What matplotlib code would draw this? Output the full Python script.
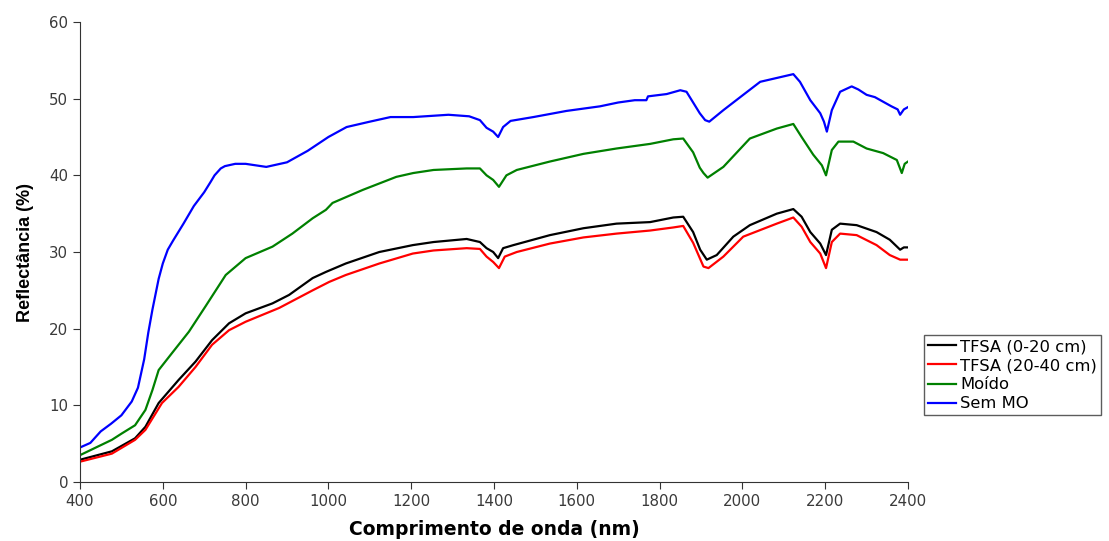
import matplotlib.pyplot as plt

plt.rcParams['font.family'] = ['DejaVu Sans']

# Espectros de reflectância (nm, %)
wl_tfsa_0_20 = [400, 477, 533, 558, 590, 638, 679, 719, 760, 800, 865, 905, 962, 994, 1042,
                1123, 1204, 1254, 1334, 1366, 1382, 1398, 1410, 1422, 1447, 1535, 1616, 1696,
                1777, 1833, 1857, 1881, 1898, 1914, 1938, 1978, 2018, 2083, 2123, 2143, 2164,
                2188, 2202, 2216, 2236, 2276, 2324, 2356, 2381, 2390, 2400]
tfsa_0_20 = [2.9, 4.0, 5.7, 7.2, 10.3, 13.3, 15.7, 18.5, 20.7, 22.0, 23.3, 24.4, 26.6, 27.4, 28.5,
             30.0, 30.9, 31.3, 31.7, 31.3, 30.5, 30.0, 29.2, 30.5, 30.9, 32.2, 33.1, 33.7,
             33.9, 34.5, 34.6, 32.6, 30.3, 29.0, 29.6, 32.0, 33.5, 35.0, 35.6, 34.6, 32.6,
             31.1, 29.6, 32.9, 33.7, 33.5, 32.6, 31.6, 30.3, 30.6, 30.6]

wl_tfsa_20_40 = [400, 477, 533, 558, 598, 638, 679, 719, 760, 800, 881, 962, 1002, 1042, 1123,
                 1204, 1254, 1334, 1366, 1382, 1398, 1412, 1426, 1455, 1535, 1616, 1696, 1777,
                 1833, 1857, 1881, 1906, 1918, 1954, 2002, 2083, 2123, 2143, 2164, 2188, 2202,
                 2216, 2236, 2276, 2324, 2356, 2381, 2400]
tfsa_20_40 = [2.65, 3.7, 5.5, 6.8, 10.3, 12.4, 15.0, 17.9, 19.8, 20.9, 22.7, 25.0, 26.1, 27.0, 28.5,
              29.8, 30.2, 30.5, 30.4, 29.4, 28.7, 27.9, 29.4, 30.0, 31.1, 31.9, 32.4, 32.8,
              33.2, 33.4, 31.2, 28.1, 27.9, 29.4, 32.0, 33.7, 34.5, 33.3, 31.3, 29.8, 27.9,
              31.3, 32.4, 32.2, 30.9, 29.6, 29.0, 29.0]

wl_moido = [400, 450, 477, 500, 533, 558, 575, 590, 622, 663, 703, 752, 800, 865, 913, 962, 994,
            1010, 1083, 1164, 1205, 1254, 1334, 1366, 1382, 1398, 1412, 1430, 1455, 1535, 1616,
            1696, 1777, 1833, 1857, 1881, 1897, 1906, 1916, 1954, 2018, 2083, 2123, 2143, 2171,
            2192, 2202, 2216, 2232, 2268, 2300, 2340, 2373, 2385, 2392, 2400]
moido = [3.5, 4.8, 5.5, 6.3, 7.4, 9.4, 12.0, 14.6, 16.8, 19.6, 22.9, 27.0, 29.2, 30.7, 32.4, 34.4, 35.5,
         36.4, 38.1, 39.8, 40.3, 40.7, 40.9, 40.9, 40.0, 39.4, 38.5, 40.0, 40.7, 41.8, 42.8,
         43.5, 44.1, 44.7, 44.8, 43.0, 41.0, 40.3, 39.7, 41.1, 44.8, 46.1, 46.7, 45.0, 42.7,
         41.3, 40.0, 43.3, 44.4, 44.4, 43.5, 42.9, 42.0, 40.3, 41.5, 41.8]

wl_sem_mo = [400, 425, 450, 475, 500, 525, 540, 555, 565, 575, 590, 600, 612, 625, 650, 675, 700,
             715, 725, 740, 750, 775, 800, 850, 900, 950, 1000, 1044, 1100, 1150, 1205, 1290, 1340,
             1366, 1382, 1398, 1410, 1422, 1440, 1495, 1575, 1656, 1700, 1740, 1768, 1772, 1817,
             1850, 1865, 1881, 1897, 1910, 1920, 1954, 2002, 2043, 2083, 2123, 2139, 2164, 2188,
             2197, 2204, 2216, 2236, 2264, 2280, 2300, 2320, 2340, 2360, 2375, 2381, 2390, 2400]
sem_mo = [4.5, 5.1, 6.6, 7.6, 8.7, 10.5, 12.3, 16.0, 19.5, 22.5, 26.5, 28.5, 30.3, 31.5, 33.7, 36.0,
          37.8, 39.1, 40.0, 40.9, 41.2, 41.5, 41.5, 41.1, 41.7, 43.2, 45.0, 46.3, 47.0, 47.6, 47.6,
          47.9, 47.7, 47.2, 46.2, 45.7, 45.0, 46.3, 47.1, 47.6, 48.4, 49.0, 49.5, 49.8, 49.8,
          50.3, 50.6, 51.1, 50.9, 49.5, 48.1, 47.2, 47.0, 48.5, 50.5, 52.2, 52.7, 53.2, 52.2,
          49.8, 48.1, 47.0, 45.7, 48.5, 50.9, 51.6, 51.2, 50.5, 50.2, 49.6, 49.0, 48.6, 47.9,
          48.6, 48.9]

fig = plt.figure(figsize=(11.09, 5.41), dpi=100)
ax = fig.add_axes([80 / 1109, 59 / 541, 828 / 1109, 460 / 541])

ax.plot(wl_tfsa_0_20, tfsa_0_20, color='black', lw=1.6, label='TFSA (0-20 cm)')
ax.plot(wl_tfsa_20_40, tfsa_20_40, color='#ff0000', lw=1.6, label='TFSA (20-40 cm)')
ax.plot(wl_moido, moido, color='#008000', lw=1.6, label='Moído')
ax.plot(wl_sem_mo, sem_mo, color='#0000ff', lw=1.6, label='Sem MO')

ax.set_xlim(400, 2400)
ax.set_ylim(0, 60)
ax.set_xticks(range(400, 2401, 200))
ax.set_yticks(range(0, 61, 10))
for s in ['top', 'right']:
    ax.spines[s].set_visible(False)
for s in ['left', 'bottom']:
    ax.spines[s].set_color('#333333')
ax.tick_params(direction='out', length=5, color='#333333', labelcolor='#3a3a3a', labelsize=10.8)

ax.set_xlabel('Comprimento de onda (nm)', fontsize=13.5, fontweight='bold', labelpad=8)
ax.set_ylabel('Reflectância (%)', fontsize=13, fontweight='bold', labelpad=11,
              family=['Liberation Sans', 'DejaVu Sans'])

leg = fig.legend(loc='upper left', bbox_to_anchor=(924 / 1109, 1 - 335 / 541),
                 fontsize=11.8, frameon=True, fancybox=False, handlelength=1.7,
                 handletextpad=0.25, borderpad=0.25, labelspacing=0.25, borderaxespad=0)
leg.get_frame().set_edgecolor('#333333')
leg.get_frame().set_linewidth(1.0)
for line in leg.get_lines():
    line.set_linewidth(1.6)

fig.savefig('out.png', dpi=100)
